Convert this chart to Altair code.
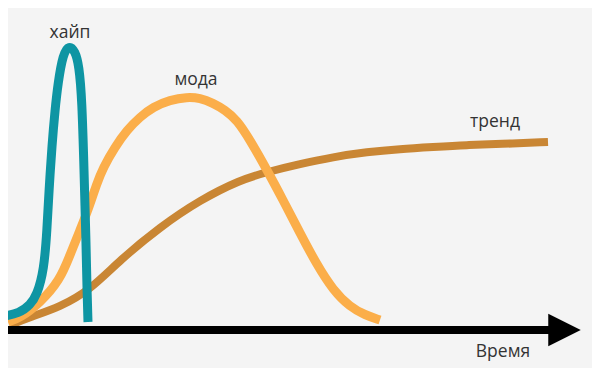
import altair as alt
import pandas as pd

# Curves: x = time (px-like units), y = level above the time axis
hype_x = [0, 20, 30, 37, 44, 47, 49, 52, 55, 58, 63, 69, 75, 79, 82, 84, 86, 87, 88]
hype_y = [13, 17, 25, 35, 60, 100, 140, 185, 220, 247, 276, 285, 279, 265, 230, 160, 90, 40, 8]

fashion_x = [8, 20, 40, 60, 70, 80, 87, 97, 103, 115, 127, 140, 153, 170, 187, 200, 213,
             225, 237, 250, 267, 283, 300, 317, 333, 350, 365, 380]
fashion_y = [8, 12, 27, 50, 75, 100, 117, 147, 162, 183, 200, 213, 223, 230, 233, 232, 227,
             220, 210, 190, 160, 130, 97, 65, 40, 23, 15, 10]

trend_x = [10, 30, 60, 90, 120, 160, 200, 240, 267, 300, 333, 367, 400, 433, 467, 500, 548]
trend_y = [5, 13, 23, 40, 70, 103, 130, 150, 158, 166, 173, 178, 181, 183, 185, 186, 188]

labels = ["хайп", "мода", "тренд", "Время"]
label_x = [70, 196, 495, 503]
label_y = [292, 245, 203, -27]

axis_start, axis_end, arrow_x = 0, 552, 564.5

hype = pd.DataFrame({"t": hype_x, "v": hype_y})
fashion = pd.DataFrame({"t": fashion_x, "v": fashion_y})
trend = pd.DataFrame({"t": trend_x, "v": trend_y})
lab = pd.DataFrame({"t": label_x, "v": label_y, "text": labels})
axis_df = pd.DataFrame({"t": [axis_start], "t2": [axis_end], "v": [0]})
arrow_df = pd.DataFrame({"t": [arrow_x], "v": [0]})

xs = alt.Scale(domain=[8, 592], nice=False, zero=False)
ys = alt.Scale(domain=[-38, 322], nice=False, zero=False)
X = alt.X("t:Q", scale=xs, axis=None)
Y = alt.Y("v:Q", scale=ys, axis=None)


def curve(df, color, width, interp):
    return alt.Chart(df).mark_line(
        color=color, strokeWidth=width, interpolate=interp, clip=True, strokeCap="butt"
    ).encode(x=X, y=Y)


axis_line = alt.Chart(axis_df).mark_rule(color="black", strokeWidth=8, clip=True).encode(
    x=X, x2="t2:Q", y=Y
)
arrow = alt.Chart(arrow_df).mark_point(
    shape="M-1,-1L1,0L-1,1Z", size=1056, filled=True, color="black", opacity=1, strokeWidth=0
).encode(x=X, y=Y)

text = alt.Chart(lab).mark_text(
    font="Open Sans", fontSize=17.5, color="#333333", baseline="alphabetic", align="center"
).encode(x=X, y=Y, text="text:N")

chart = alt.layer(
    curve(trend, "#C98634", 8, "basis"),
    curve(fashion, "#FBAE4A", 9, "basis"),
    curve(hype, "#0E95A3", 9, "basis"),
    axis_line,
    arrow,
    text,
).properties(width=584, height=360, padding=0, background="#f4f4f4").configure_view(stroke=None)

chart.save("out.html", embed_options={"renderer": "svg", "actions": False})
